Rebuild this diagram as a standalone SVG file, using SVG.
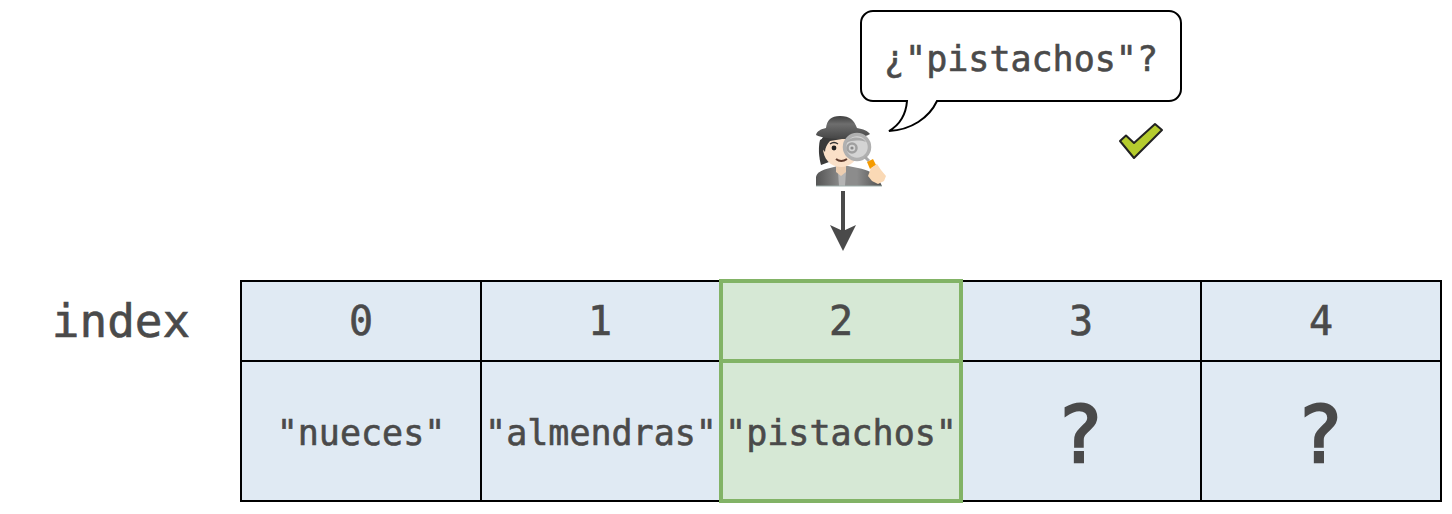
<svg xmlns="http://www.w3.org/2000/svg" width="1452" height="514" viewBox="0 0 1452 514">
<style>
text{font-family:"DejaVu Sans Mono","Liberation Mono",monospace;fill:#4a4a4a;stroke:#4a4a4a;stroke-width:.6;text-anchor:middle}
.c{fill:#e0eaf3;stroke:#000;stroke-width:2}
.g{fill:#d6e8d5;stroke:#82b366;stroke-width:4}
.s{font-size:35px}.n{font-size:40px}.q{font-size:78px;stroke-width:2.4}
</style>
<defs>
<marker id="a" markerUnits="userSpaceOnUse" markerWidth="26" markerHeight="26" refX="13" refY="13" orient="auto"><path d="M0 0L26 13L0 26L6 13Z" fill="#4a4a4a"/></marker>
<linearGradient id="coat" x1="0" y1="0" x2="1" y2="0"><stop offset="0" stop-color="#555"/><stop offset=".38" stop-color="#8c8c8c"/><stop offset=".62" stop-color="#8c8c8c"/><stop offset="1" stop-color="#4f4f4f"/></linearGradient>
<linearGradient id="hat" x1="0" y1="0" x2="0" y2="1"><stop offset="0" stop-color="#3f3f3f"/><stop offset=".35" stop-color="#6e6e6e"/><stop offset="1" stop-color="#454545"/></linearGradient>
</defs>
<rect width="1452" height="514" fill="#fff"/>
<g id="label-index"><text x="121" y="337" style="font-size:46px">index</text></g>
<g id="cell-i0"><rect class="c" x="241" y="281" width="240" height="80"/><text class="n" x="361" y="335">0</text></g>
<g id="cell-i1"><rect class="c" x="481" y="281" width="240" height="80"/><text class="n" x="600" y="335">1</text></g>
<g id="cell-i3"><rect class="c" x="961" y="281" width="240" height="80"/><text class="n" x="1081" y="335">3</text></g>
<g id="cell-i4"><rect class="c" x="1201" y="281" width="240" height="80"/><text class="n" x="1321" y="335">4</text></g>
<g id="cell-v0"><rect class="c" x="241" y="361" width="240" height="140"/><text class="s" x="361" y="445">"nueces"</text></g>
<g id="cell-v1"><rect class="c" x="481" y="361" width="240" height="140"/><text class="s" x="601" y="445">"almendras"</text></g>
<g id="cell-v3"><rect class="c" x="961" y="361" width="240" height="140"/><text class="q" x="1080" y="462">?</text></g>
<g id="cell-v4"><rect class="c" x="1201" y="361" width="240" height="140"/><text class="q" x="1320" y="462">?</text></g>
<g id="cell-i2"><rect class="g" x="721" y="281" width="240" height="80"/><text class="n" x="841" y="335">2</text></g>
<g id="cell-v2"><rect class="g" x="721" y="361" width="240" height="140"/><text class="s" x="841" y="445">"pistachos"</text></g>
<g id="bubble"><path d="M873 11H1169A12 12 0 0 1 1181 23V89A12 12 0 0 1 1169 101H937C929 118 911 130 889 131C901 124 906 114 907 101H873A12 12 0 0 1 861 89V23A12 12 0 0 1 873 11Z" fill="#fff" stroke="#000" stroke-width="2"/><text class="s" x="1021" y="71">¿"pistachos"?</text></g>
<g id="check"><path d="M1120 141L1126 135.5L1134 143L1155 124L1162 130L1134 158Z" fill="#b5cc2e" stroke="#222" stroke-width="2" stroke-linejoin="round"/></g>
<g id="detective">
<path d="M816 186V177C817 172 822 170 830 168L838 166H848L858 168C868 170 874 173 878 178L882 186Z" fill="url(#coat)"/>
<path d="M838 172L846 172L845 186H839Z" fill="#b4b4b4"/>
<path d="M816 186H882" stroke="#9fb0ad" stroke-width="1"/>
<path d="M820 140C818 148 819 158 821 165L829 162L828 136Z" fill="#3a3a3a"/>
<path d="M836 164H846V172L841 176L836 172Z" fill="#eccdb0"/>
<path d="M823 136H860V150C858 160 850 167 841 167C830 167 823 158 823 148Z" fill="#fae0c8"/>
<path d="M820 146C820 141 822 137 826 135H850L842 139L830 141C827 144 825 148 825 152Z" fill="#3a3a3a"/>
<path d="M816 135C817 131 821 129 826 128C827 120 831 116 840 116C850 116 854 120 857 128C863 129 868 131 870 134C860 140 828 141 816 135Z" fill="url(#hat)"/>
<path d="M830 144Q834 141 838 144" stroke="#333" stroke-width="1.3" fill="none"/>
<circle cx="834" cy="148" r="2.4" fill="#222"/>
<path d="M836 159Q841 163 847 159" stroke="#5e3a2c" stroke-width="2" fill="none"/>
<circle cx="857" cy="147" r="12.5" fill="#d4d4d4" stroke="#b0b0b0" stroke-width="3.5"/>
<path d="M846 143C850 136 862 136 866 142C860 140 852 140 846 143Z" fill="#a8a8a8"/>
<circle cx="852" cy="148" r="4.5" fill="none" stroke="#a0a0a0" stroke-width="2.5"/>
<circle cx="852" cy="148" r="1.6" fill="#8a8a8a"/>
<path d="M865 157L869 161" stroke="#a8a8a8" stroke-width="3"/>
<path d="M867 162L873 159L876 165L870 169Z" fill="#f59b00"/>
<path d="M871 168L877 164L881 170L886 176L884 181L878 184L872 181L868 176Z" fill="#fad9b5"/>
</g>
<g id="connectors"><path d="M843 191V238" stroke="#4a4a4a" stroke-width="4" fill="none" marker-end="url(#a)"/></g>
</svg>
